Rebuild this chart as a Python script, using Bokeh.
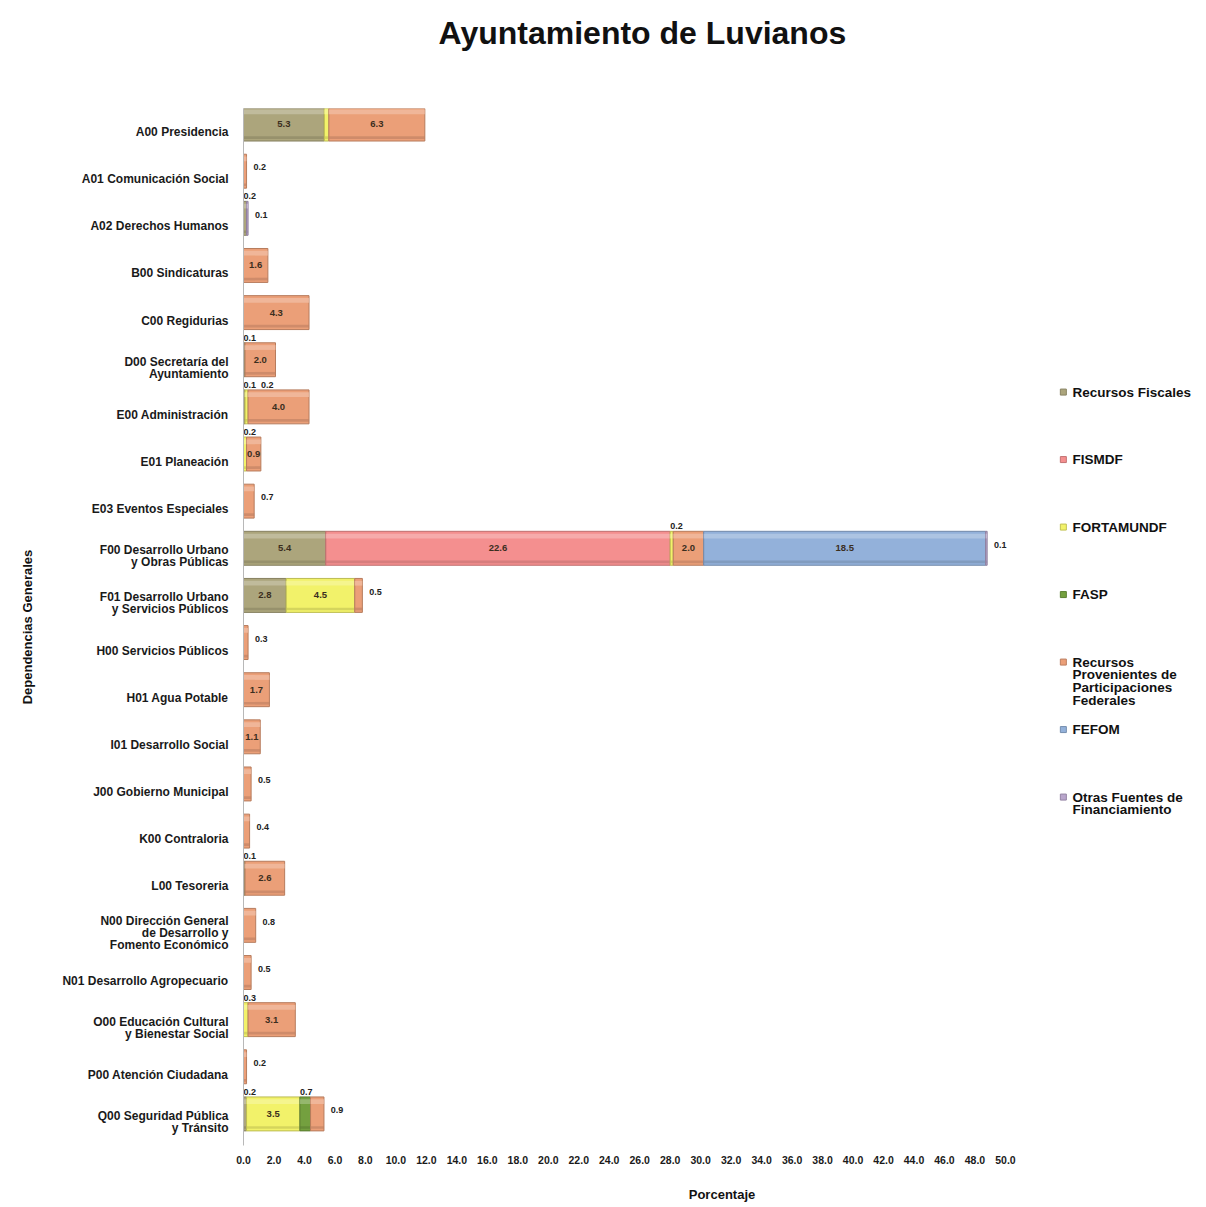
from bokeh.plotting import figure
from bokeh.models import Range1d, FixedTicker, NumeralTickFormatter, Title
from bokeh.core.properties import value
from bokeh.embed import file_html
from bokeh.resources import INLINE

# ---------------- data ----------------
categories = [
    "A00 Presidencia",
    "A01 Comunicación Social",
    "A02 Derechos Humanos",
    "B00 Sindicaturas",
    "C00 Regidurias",
    "D00 Secretaría del\nAyuntamiento",
    "E00 Administración",
    "E01 Planeación",
    "E03 Eventos Especiales",
    "F00 Desarrollo Urbano\ny Obras Públicas",
    "F01 Desarrollo Urbano\ny Servicios Públicos",
    "H00 Servicios Públicos",
    "H01 Agua Potable",
    "I01 Desarrollo Social",
    "J00 Gobierno Municipal",
    "K00 Contraloria",
    "L00 Tesoreria",
    "N00 Dirección General\nde Desarrollo y\nFomento Económico",
    "N01 Desarrollo Agropecuario",
    "O00 Educación Cultural\ny Bienestar Social",
    "P00 Atención Ciudadana",
    "Q00 Seguridad Pública\ny Tránsito",
]

series_names = [
    "Recursos Fiscales",
    "FISMDF",
    "FORTAMUNDF",
    "FASP",
    "Recursos\nProvenientes de\nParticipaciones\nFederales",
    "FEFOM",
    "Otras Fuentes de\nFinanciamiento",
]

#                      A00  A01  A02  B00  C00  D00  E00  E01  E03  F00   F01  H00  H01  I01  J00  K00  L00  N00  N01  O00  P00  Q00
recursos_fiscales = [5.3, 0,   0.2, 0,   0,   0.1, 0.1, 0,   0,   5.4,  2.8, 0,   0,   0,   0,   0,   0.1, 0,   0,   0,   0,   0.2]
fismdf            = [0,   0,   0,   0,   0,   0,   0,   0,   0,   22.6, 0,   0,   0,   0,   0,   0,   0,   0,   0,   0,   0,   0]
fortamundf        = [0.3, 0,   0,   0,   0,   0,   0.2, 0.2, 0,   0.2,  4.5, 0,   0,   0,   0,   0,   0,   0,   0,   0.3, 0,   3.5]
fasp              = [0,   0,   0,   0,   0,   0,   0,   0,   0,   0,    0,   0,   0,   0,   0,   0,   0,   0,   0,   0,   0,   0.7]
participaciones   = [6.3, 0.2, 0,   1.6, 4.3, 2.0, 4.0, 0.94,0.7, 2.0,  0.5, 0.3, 1.7, 1.1, 0.5, 0.4, 2.6, 0.8, 0.5, 3.1, 0.2, 0.88]
fefom             = [0,   0,   0,   0,   0,   0,   0,   0,   0,   18.5, 0,   0,   0,   0,   0,   0,   0,   0,   0,   0,   0,   0]
otras_fuentes     = [0,   0,   0.1, 0,   0,   0,   0,   0,   0,   0.1,  0,   0,   0,   0,   0,   0,   0,   0,   0,   0,   0,   0]

x_ticks = [0, 2, 4, 6, 8, 10, 12, 14, 16, 18, 20, 22, 24, 26, 28, 30, 32, 34, 36, 38, 40, 42, 44, 46, 48, 50]

# ---------------- styles ----------------
series_values = [recursos_fiscales, fismdf, fortamundf, fasp, participaciones, fefom, otras_fuentes]
colors = ["#aca57c", "#f48f8f", "#f2f26a", "#74a03f", "#eb9f78", "#93b1da", "#b9a6cc"]
FONT = "Liberation Sans"


def shade(hex_color, f):
    r, g, b = int(hex_color[1:3], 16), int(hex_color[3:5], 16), int(hex_color[5:7], 16)
    if f < 1:
        r, g, b = int(r * f), int(g * f), int(b * f)
    else:
        t = f - 1
        r, g, b = int(r + (255 - r) * t), int(g + (255 - g) * t), int(b + (255 - b) * t)
    return "#%02x%02x%02x" % (r, g, b)


n = len(categories)
ypos = [n - 1 - i for i in range(n)]
BAR_SHIFT = 0.17
BAR_H = 0.72

p = figure(
    width=1200, height=1205,
    x_range=Range1d(0, 62.8), y_range=Range1d(-0.5, n - 0.5),
    output_backend="svg", toolbar_location=None,
    min_border_left=243, min_border_right=0, min_border_top=108, min_border_bottom=60,
)
p.outline_line_color = None
p.grid.visible = False
p.background_fill_color = "white"
p.border_fill_color = "white"

# title
p.title.text = "Ayuntamiento de Luvianos"
p.title.align = "left"
p.title.offset = 195
p.title.text_font = FONT
p.title.text_font_size = "32px"
p.title.text_font_style = "bold"
p.title.text_color = "#111111"
# blank spacer between title and frame
p.add_layout(Title(text=" ", text_font_size="36px"), "above")

# x axis
p.xaxis.ticker = FixedTicker(ticks=x_ticks)
p.xaxis.formatter = NumeralTickFormatter(format="0.0")
p.xaxis.axis_line_color = None
p.xaxis.major_tick_line_color = None
p.xaxis.minor_tick_line_color = None
p.xaxis.major_tick_out = 0
p.xaxis.major_tick_in = 0
p.xaxis.major_label_standoff = 10
p.xaxis.major_label_text_font = FONT
p.xaxis.major_label_text_font_size = "10.5px"
p.xaxis.major_label_text_font_style = "bold"
p.xaxis.major_label_text_color = "#1a1a1a"
p.xaxis.axis_label = "Porcentaje"
p.xaxis.axis_label_text_font = FONT
p.xaxis.axis_label_text_font_size = "13px"
p.xaxis.axis_label_text_font_style = "bold"
p.xaxis.axis_label_text_color = "#111111"
p.xaxis.axis_label_standoff = 20

# y axis
p.yaxis.ticker = FixedTicker(ticks=ypos)
p.yaxis.major_label_overrides = {ypos[i]: categories[i] for i in range(n)}
p.yaxis.axis_line_color = "#b8b8b8"
p.yaxis.major_tick_line_color = None
p.yaxis.minor_tick_line_color = None
p.yaxis.major_tick_out = 0
p.yaxis.major_tick_in = 0
p.yaxis.major_label_standoff = 15
p.yaxis.major_label_text_font = FONT
p.yaxis.major_label_text_font_size = "12px"
p.yaxis.major_label_text_font_style = "bold"
p.yaxis.major_label_text_line_height = 0.85
p.yaxis.major_label_text_color = "#1a1a1a"
p.yaxis.axis_label = "Dependencias Generales"
p.yaxis.axis_label_text_font = FONT
p.yaxis.axis_label_text_font_size = "13px"
p.yaxis.axis_label_text_font_style = "bold"
p.yaxis.axis_label_text_color = "#111111"
p.yaxis.axis_label_standoff = 24

# ---------------- bars ----------------
cum = [0.0] * n
segments = []  # (row, left, right, value)
for s, vals in enumerate(series_values):
    ys, lefts, rights = [], [], []
    for i in range(n):
        v = vals[i]
        if v > 0:
            ys.append(ypos[i] + BAR_SHIFT)
            lefts.append(cum[i])
            rights.append(cum[i] + v)
            segments.append((i, cum[i], cum[i] + v, v))
            cum[i] += v
    if ys:
        c = colors[s]
        p.hbar(y=ys, left=lefts, right=rights, height=BAR_H,
               fill_color=c, line_color=shade(c, 0.78), line_width=1)
        # top bevel highlight
        p.hbar(y=[y + BAR_H * 0.36 for y in ys], left=lefts, right=rights, height=BAR_H * 0.14,
               fill_color=shade(c, 1.35), fill_alpha=0.7, line_color=None)
        # bottom shadow
        p.hbar(y=[y - BAR_H * 0.40 for y in ys], left=lefts, right=rights, height=BAR_H * 0.08,
               fill_color=shade(c, 0.8), fill_alpha=0.6, line_color=None)

# ---------------- value labels ----------------
last_right = {}
for (i, l, r, v) in segments:
    last_right[i] = max(last_right.get(i, 0), r)

ins_x, ins_y, ins_t = [], [], []
rt_x, rt_y, rt_t = [], [], []
ab_x, ab_y, ab_t = [], [], []
prev_above = {}
for (i, l, r, v) in segments:
    txt = "%.1f" % v
    yc = ypos[i] + BAR_SHIFT
    if v >= 0.9:
        ins_x.append((l + r) / 2); ins_y.append(yc); ins_t.append(txt)
    elif abs(r - last_right[i]) < 1e-9:
        rt_x.append(r + 0.45); rt_y.append(yc + 0.08); rt_t.append(txt)
    else:
        x = l
        if i in prev_above and x - prev_above[i] < 1.15:
            x = prev_above[i] + 1.15
        prev_above[i] = x
        ab_x.append(x); ab_y.append(yc + BAR_H / 2 + 0.04); ab_t.append(txt)

p.text(x=ins_x, y=ins_y, text=ins_t, text_align="center", text_baseline="middle",
       text_font=value(FONT), text_font_size="9.5px", text_font_style="bold", text_color="#3b2e1e")
p.text(x=rt_x, y=rt_y, text=rt_t, text_align="left", text_baseline="middle",
       text_font=value(FONT), text_font_size="9px", text_font_style="bold", text_color="#222222")
p.text(x=ab_x, y=ab_y, text=ab_t, text_align="left", text_baseline="bottom",
       text_font=value(FONT), text_font_size="9px", text_font_style="bold", text_color="#222222")

# ---------------- legend (drawn in frame, right side) ----------------
px_per_y = 1037.0 / n
LEG_FIRST = ypos[0] - (392 - 132) / px_per_y
LEG_STEP = 67.5 / px_per_y
leg_y = [LEG_FIRST - k * LEG_STEP for k in range(len(series_names))]
p.scatter(x=[53.8] * len(series_names), y=leg_y, marker="square", size=6,
          fill_color=colors, line_color=[shade(c, 0.8) for c in colors])
p.text(x=[54.4] * len(series_names), y=[y + 7.5 / px_per_y for y in leg_y], text=series_names,
       text_align="left", text_baseline="top", text_line_height=0.85,
       text_font=value(FONT), text_font_size="13.5px", text_font_style="bold", text_color="#111111")

open("out.html", "w").write(file_html(p, INLINE))
